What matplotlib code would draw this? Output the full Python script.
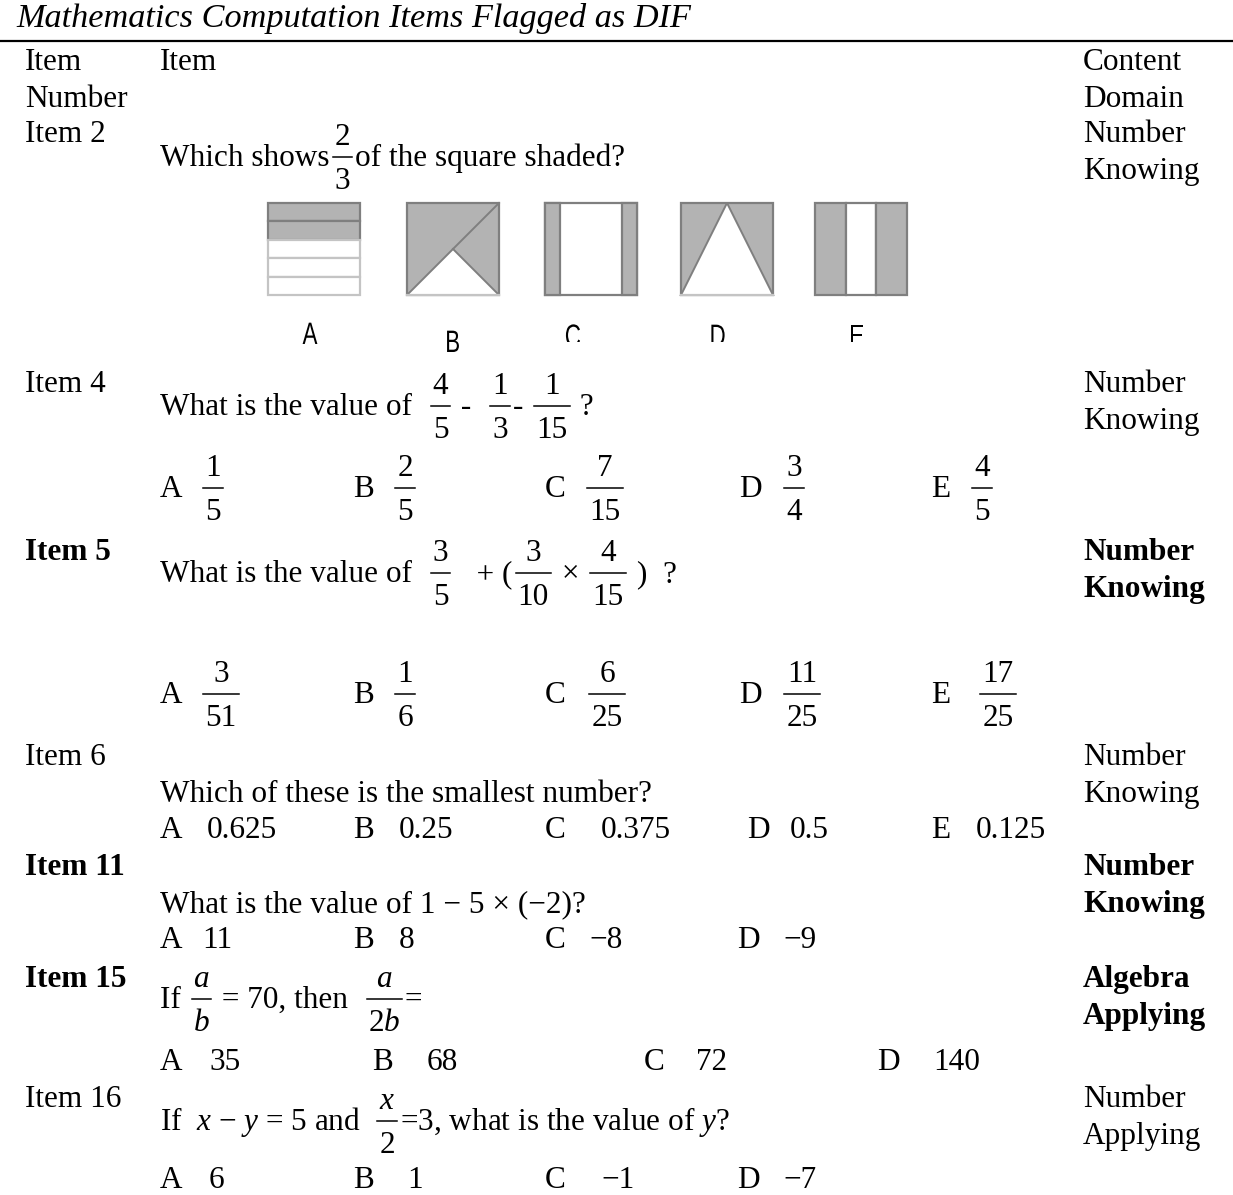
import matplotlib
matplotlib.use("Agg")
import matplotlib.pyplot as plt
from matplotlib.patches import Polygon, Rectangle, PathPatch
from matplotlib.textpath import TextPath
from matplotlib.font_manager import FontProperties
from matplotlib.transforms import Affine2D

plt.rcParams["font.family"] = ["Liberation Serif", "DejaVu Serif"]
plt.rcParams["mathtext.fontset"] = "custom"
plt.rcParams["mathtext.rm"] = "Liberation Serif"
plt.rcParams["mathtext.it"] = "Liberation Serif:italic"
plt.rcParams["mathtext.bf"] = "Liberation Serif:bold"

title = "Mathematics Computation Items Flagged as DIF"
header_left = ["Item", "Number"]
header_mid = "Item"
header_right = ["Content", "Domain"]

items = ["Item 2", "Item 4", "Item 5", "Item 6", "Item 11", "Item 15", "Item 16"]
item_bold = [False, False, True, False, True, True, False]
domain_area = ["Number", "Number", "Number", "Number", "Number", "Algebra", "Number"]
domain_process = ["Knowing", "Knowing", "Knowing", "Knowing", "Knowing", "Applying", "Applying"]

# question text: strings and (numerator, denominator) fractions
questions = [
    ["Which shows", ("2", "3"), "of the square shaded?"],
    ["What is the value of  ", ("4", "5"), " -  ", ("1", "3"), "- ", ("1", "15"), " ?"],
    ["What is the value of  ", ("3", "5"), "   + (", ("3", "10"), " × ", ("4", "15"), " )  ?"],
    ["Which of these is the smallest number?"],
    ["What is the value of 1 − 5 × (−2)?"],
    ["If ", ("$a$", "$b$"), " = 70, then  ", ("$a$", "2$b$"), "="],
    ["If  $x$ − $y$ = 5 and  ", ("$x$", "2"), "=3, what is the value of $y$?"],
]

letters = ["A", "B", "C", "D", "E"]
options = [
    None,
    [("1", "5"), ("2", "5"), ("7", "15"), ("3", "4"), ("4", "5")],
    [("3", "51"), ("1", "6"), ("6", "25"), ("11", "25"), ("17", "25")],
    ["0.625", "0.25", "0.375", "0.5", "0.125"],
    ["11", "8", "−8", "−9"],
    ["35", "68", "72", "140"],
    ["6", "1", "−1", "−7"],
]

# item 2 pictures: shaded share of each square
shape_labels = ["A", "B", "C", "D", "E"]
stripes_a = 5
stripes_a_shaded = 2
side_strip_c = 1 / 6

# layout (pixels)
FS = 22.5
row_y = [142, 392, 560, 765, 875, 987, 1107]
q_y = [166, 415, 582, 802, 912, 1008, 1130]
opt_y = [None, 497, 703, 838, 948, 1070, 1188]
opt_letter_x = [None,
                [160, 353, 545, 739, 931],
                [160, 353, 545, 739, 931],
                [160, 353, 545, 747, 931],
                [160, 353, 545, 737],
                [160, 372, 644, 877],
                [160, 353, 545, 737]]
opt_value_x = [None,
               [213, 405, 605, 794, 982],
               [221, 405, 607, 802, 998],
               [207, 399, 601, 790, 976],
               [202, 399, 589, 783],
               [209, 427, 696, 933],
               [209, 407, 601, 783]]
shape_x = [268, 407, 545, 681, 815]
shape_top, shape_size = 203, 92
label_x = [310, 453, 573, 718, 857]
label_y = [344, 352, 346, 346, 346]

fig = plt.figure(figsize=(12.33, 11.95), dpi=100)
ax = fig.add_axes([0, 0, 1, 1])
ax.set_xlim(0, 1233)
ax.set_ylim(1195, 0)
ax.axis("off")
r = fig.canvas.get_renderer()


def tw(s, **kw):
    t = ax.text(0, 0, "|" + s + "|", fontsize=FS, **kw)
    w = t.get_window_extent(r).width
    t.remove()
    t = ax.text(0, 0, "||", fontsize=FS, **kw)
    w -= t.get_window_extent(r).width
    t.remove()
    return w


def frac(cx, y, num, den):
    w = max(tw(num), tw(den)) + 4
    ax.text(cx, y - 21, num, fontsize=FS, ha="center", va="baseline")
    ax.text(cx, y + 23, den, fontsize=FS, ha="center", va="baseline")
    ax.plot([cx - w / 2, cx + w / 2], [y - 9, y - 9], color="black", lw=1.1)
    return w


def flow(x, y, parts):
    for p in parts:
        if isinstance(p, tuple):
            w = max(tw(p[0]), tw(p[1])) + 4
            frac(x + 3 + w / 2, y, *p)
            x += w + 6
        else:
            ax.text(x, y, p, fontsize=FS, va="baseline")
            x += tw(p)


ax.text(16, 27, title, fontsize=24.7, style="italic", va="baseline")
ax.plot([0, 1233], [41, 41], color="black", lw=1.6)

for i, s in enumerate(header_left):
    ax.text(25, 70 + 37 * i, s, fontsize=FS, va="baseline")
    ax.text(1083, 70 + 37 * i, header_right[i], fontsize=FS, va="baseline")
ax.text(160, 70, header_mid, fontsize=FS, va="baseline")

for i, name in enumerate(items):
    wt = "bold" if item_bold[i] else "normal"
    ax.text(25, row_y[i], name, fontsize=FS, weight=wt, va="baseline")
    ax.text(1083, row_y[i], domain_area[i], fontsize=FS, weight=wt, va="baseline")
    ax.text(1083, row_y[i] + 37, domain_process[i], fontsize=FS, weight=wt, va="baseline")
    flow(160, q_y[i], questions[i])
    if options[i] is None:
        continue
    for j, v in enumerate(options[i]):
        ax.text(opt_letter_x[i][j], opt_y[i], letters[j], fontsize=FS, va="baseline")
        if isinstance(v, tuple):
            frac(opt_value_x[i][j], opt_y[i], *v)
        else:
            ax.text(opt_value_x[i][j], opt_y[i], v, fontsize=FS, va="baseline")

# item 2 pictures
fill, dark, light = "#b3b3b3", "#7f7f7f", "#c4c4c4"
s = shape_size
x0, y0 = shape_x[0], shape_top
h = s / stripes_a
for k in range(stripes_a):
    shaded = k < stripes_a_shaded
    ax.add_patch(Rectangle((x0, y0 + k * h), s, h, facecolor=fill if shaded else "white",
                           edgecolor=dark if shaded else light, lw=1.6))

x0 = shape_x[1]
ax.add_patch(Rectangle((x0, y0), s, s, facecolor=fill, edgecolor=dark, lw=1.6))
ax.add_patch(Polygon([(x0, y0 + s), (x0 + s / 2, y0 + s / 2), (x0 + s, y0 + s)],
                     facecolor="white", edgecolor=dark, lw=1.4))
ax.plot([x0 + s / 2, x0 + s], [y0 + s / 2, y0], color=dark, lw=1.4)
ax.plot([x0, x0 + s], [y0 + s, y0 + s], color=light, lw=1.6)

x0 = shape_x[2]
ax.add_patch(Rectangle((x0, y0), s, s, facecolor="white", edgecolor=dark, lw=1.6))
for xs in [x0, x0 + s * (1 - side_strip_c)]:
    ax.add_patch(Rectangle((xs, y0), s * side_strip_c, s, facecolor=fill, edgecolor=dark, lw=1.6))

x0 = shape_x[3]
ax.add_patch(Rectangle((x0, y0), s, s, facecolor=fill, edgecolor=dark, lw=1.6))
ax.add_patch(Polygon([(x0, y0 + s), (x0 + s / 2, y0), (x0 + s, y0 + s)],
                     facecolor="white", edgecolor=dark, lw=1.4))
ax.plot([x0, x0 + s], [y0 + s, y0 + s], color=light, lw=1.6)

x0 = shape_x[4]
for k in range(3):
    ax.add_patch(Rectangle((x0 + k * s / 3, y0), s / 3, s, facecolor="white" if k == 1 else fill,
                           edgecolor=dark, lw=1.6))

# condensed sans labels under the pictures
fp = FontProperties(family="Liberation Sans")
clip = Rectangle((0, 190), 1233, 152, transform=ax.transData)
for j, lab in enumerate(shape_labels):
    tp = TextPath((0, 0), lab, size=31, prop=fp)
    ext = tp.get_extents()
    sx = 0.72
    tr = Affine2D().translate(-(ext.x0 + ext.x1) / 2, 0).scale(sx, -1).translate(label_x[j], label_y[j])
    pp = PathPatch(tp, transform=tr + ax.transData, facecolor="black", edgecolor="none")
    ax.add_patch(pp)
    if j >= 2:
        pp.set_clip_path(clip)

fig.savefig("out.png", dpi=100)
